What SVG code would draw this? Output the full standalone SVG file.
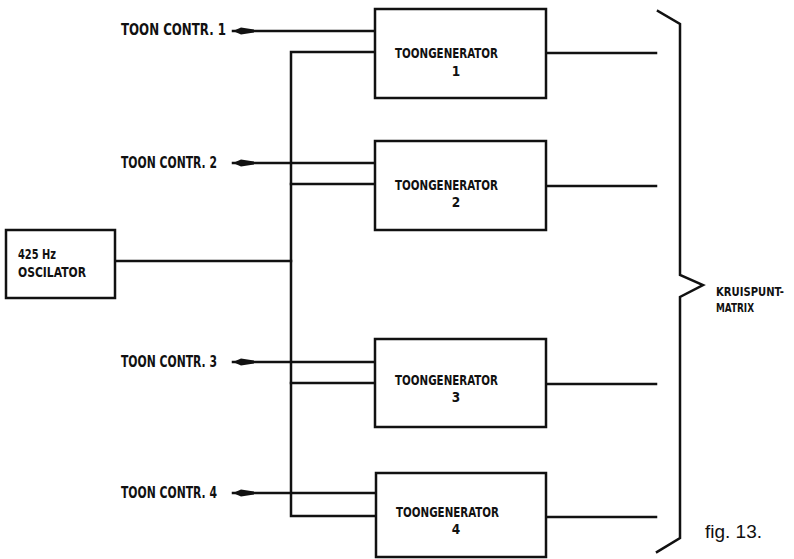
<svg xmlns="http://www.w3.org/2000/svg" width="794" height="559" viewBox="0 0 794 559">
<style>
.box{fill:#fff;stroke:#111;stroke-width:2.5}
.ln{fill:none;stroke:#111;stroke-width:2.5;stroke-linecap:square;stroke-linejoin:miter}
.lbl{font-family:"DejaVu Sans Condensed","DejaVu Sans",sans-serif;font-weight:bold;fill:#111}
.fig{font-family:"Liberation Sans",Arial,sans-serif;font-size:19px;fill:#111}
</style>
<defs>
<marker id="arr" viewBox="0 0 21 9" refX="21" refY="4.5" markerWidth="21" markerHeight="9" markerUnits="userSpaceOnUse" orient="auto">
<path d="M21,4.5 L13,1 L0,3 L0,6 L13,8 Z" fill="#111"/>
</marker>
</defs>
<rect width="794" height="559" fill="#fff"/>
<g id="connectors">
<path class="ln" d="M374,31 H233" marker-end="url(#arr)"/>
<path class="ln" d="M374,163 H233" marker-end="url(#arr)"/>
<path class="ln" d="M374,362 H233" marker-end="url(#arr)"/>
<path class="ln" d="M374,493 H233" marker-end="url(#arr)"/>
<path class="ln" d="M374,52 H291 V516 H374"/>
<path class="ln" d="M291,184 H374"/>
<path class="ln" d="M291,383 H374"/>
<path class="ln" d="M115,261 H291"/>
<path class="ln" d="M546,53 H656"/>
<path class="ln" d="M546,186 H656"/>
<path class="ln" d="M546,384 H656"/>
<path class="ln" d="M546,517 H656"/>
</g>
<g id="bracket">
<path class="ln" d="M658,11 L680,24 V275 L703,285 L680,297 V538 L657,552"/>
</g>
<g id="osc">
<rect class="box" x="6" y="230" width="109" height="68"/>
<text class="lbl" x="18" y="259" font-size="14" textLength="38" lengthAdjust="spacingAndGlyphs">425 Hz</text>
<text class="lbl" x="18" y="277" font-size="14" textLength="68" lengthAdjust="spacingAndGlyphs">OSCILATOR</text>
</g>
<g id="tg1">
<rect class="box" x="375" y="9" width="171" height="89"/>
<text class="lbl" x="395" y="58" font-size="13.5" textLength="103" lengthAdjust="spacingAndGlyphs">TOONGENERATOR</text>
<text class="lbl" x="456" y="76" font-size="13.5" text-anchor="middle">1</text>
</g>
<g id="tg2">
<rect class="box" x="375" y="141" width="171" height="89"/>
<text class="lbl" x="395" y="190" font-size="13.5" textLength="103" lengthAdjust="spacingAndGlyphs">TOONGENERATOR</text>
<text class="lbl" x="456" y="207" font-size="13.5" text-anchor="middle">2</text>
</g>
<g id="tg3">
<rect class="box" x="375" y="339" width="171" height="88"/>
<text class="lbl" x="395" y="385" font-size="13.5" textLength="103" lengthAdjust="spacingAndGlyphs">TOONGENERATOR</text>
<text class="lbl" x="456" y="402" font-size="13.5" text-anchor="middle">3</text>
</g>
<g id="tg4">
<rect class="box" x="376" y="473" width="170" height="84"/>
<text class="lbl" x="396" y="517" font-size="13.5" textLength="103" lengthAdjust="spacingAndGlyphs">TOONGENERATOR</text>
<text class="lbl" x="456" y="534" font-size="13.5" text-anchor="middle">4</text>
</g>
<g id="labels">
<text class="lbl" x="121" y="35" font-size="15" textLength="105" lengthAdjust="spacingAndGlyphs">TOON CONTR. 1</text>
<text class="lbl" x="121" y="168" font-size="15" textLength="96" lengthAdjust="spacingAndGlyphs">TOON CONTR. 2</text>
<text class="lbl" x="121" y="367" font-size="15" textLength="96" lengthAdjust="spacingAndGlyphs">TOON CONTR. 3</text>
<text class="lbl" x="121" y="498" font-size="15" textLength="96" lengthAdjust="spacingAndGlyphs">TOON CONTR. 4</text>
<text class="lbl" x="716" y="296" font-size="12.5" textLength="68" lengthAdjust="spacingAndGlyphs">KRUISPUNT-</text>
<text class="lbl" x="716" y="312" font-size="12.5" textLength="38" lengthAdjust="spacingAndGlyphs">MATRIX</text>
<text class="fig" x="705" y="538">fig. 13.</text>
</g>
</svg>
